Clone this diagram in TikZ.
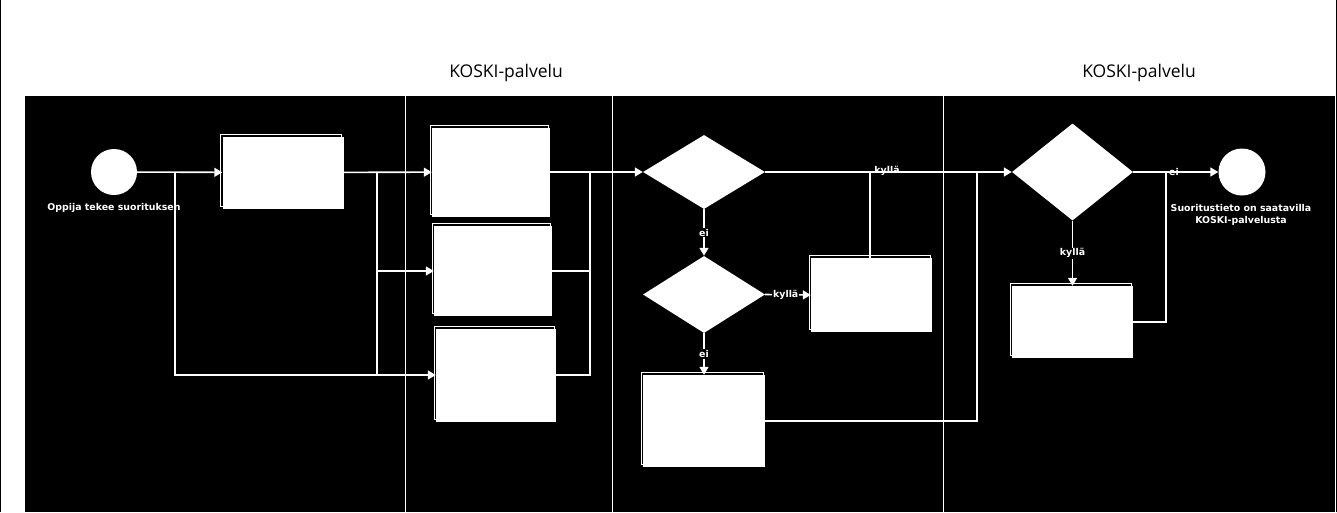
\documentclass[tikz,border=0pt]{standalone}
\usepackage{fontspec}
\setmainfont{Liberation Sans}
\newfontfamily\headfont{Open Sans}
\newfontfamily\lblfont{DejaVu Sans}
\usetikzlibrary{arrows.meta,shapes.geometric,shadows}
\tikzset{
  taskbox/.style={rectangle, fill=white, inner sep=0pt,
    general shadow={draw=white, line width=0.7pt, fill=none, shadow xshift=-1.8pt, shadow yshift=2.2pt}},
  gate/.style={diamond, fill=white, inner sep=0pt, minimum width=122pt, minimum height=74pt},
  eventc/.style={circle, fill=white, inner sep=0pt, minimum size=46pt},
  conn/.style={draw=white, line width=1.6pt},
  flow/.style={conn, -{Triangle[length=8pt,width=9pt]}},
  lbl/.style={text=white, font=\lblfont\bfseries\fontsize{9.4}{12.5}\selectfont, inner sep=1pt},
  lblb/.style={lbl, fill=black},
  lane/.style={draw=white, line width=0.8pt},
  headtxt/.style={text=black, font=\headfont\fontsize{17.5}{20}\selectfont}
}
\begin{document}
\begin{tikzpicture}[x=1pt,y=-1pt]
\useasboundingbox (0,0) rectangle (1337,512);
\fill[white] (0,0) rectangle (1337,512);
\fill[black] (25,96) rectangle (1334.5,512);
\draw[black, line width=1.2pt] (0.6,0) -- (0.6,512);
\draw[black, line width=1.2pt] (1336.4,0) -- (1336.4,512);
% lanes
\draw[lane] (405,96) -- (405,512);
\draw[lane] (612,96) -- (612,512);
\draw[lane] (943,96) -- (943,512);
% headers
\node[headtxt] (h1) at (506,73) {KOSKI-palvelu};
\node[headtxt] (h2) at (1139,73) {KOSKI-palvelu};
% nodes
\node[eventc] (s) at (114,172) {};
\node[lbl, align=center] (slbl) at (114,207.5) {Oppija tekee suorituksen};
\node[taskbox, minimum width=121pt, minimum height=72pt] (t1) at (283,172.5) {};
\node[taskbox, minimum width=118pt, minimum height=89pt] (tA) at (491,172) {};
\node[taskbox, minimum width=118pt, minimum height=90pt] (tB) at (493,271) {};
\node[taskbox, minimum width=120pt, minimum height=93pt] (tC) at (496,375) {};
\node[gate] (g1) at (704,172) {};
\node[gate, minimum height=77pt] (g2) at (704,294.5) {};
\node[taskbox, minimum width=121pt, minimum height=74pt] (tD) at (871.5,295) {};
\node[taskbox, minimum width=122pt, minimum height=92pt] (tE) at (704,421) {};
\node[gate, minimum width=121pt, minimum height=97pt] (g3) at (1072.5,172) {};
\node[taskbox, minimum width=121pt, minimum height=72pt] (tF) at (1072.5,322) {};
\node[eventc, minimum size=47pt] (e) at (1242,172) {};
\node[lbl, align=center] (elbl) at (1241,215) {Suoritustieto on saatavilla\\KOSKI-palvelusta};
% junctions
\coordinate (j1) at (175,172);
\coordinate (j2) at (377,172);
\coordinate (m) at (590,172);
\coordinate (k) at (870,172);
\coordinate (r) at (977,172);
\coordinate (q) at (1166,172);
% connectors
\draw[flow] (s) -- (t1);
\draw[flow] (j1) |- (tC.west);
\draw[flow] (t1) -- (tA);
\draw[conn] (j2) -- (j2 |- tC.west);
\draw[flow] (j2) |- (tB.west);
\draw[conn] (tB.east) -| (m);
\draw[conn] (tC.east) -| (m);
\draw[flow] (tA.east) -- (g1.west);
\draw[flow] (g1.east) -- (g3.west);
\node[lbl] (ky1) at (887,171) {kyllä};
\draw[flow] (g1.south) -- node[lblb, pos=0.5] (ei1) {ei} (g2.north);
\draw[flow] (g2.east) -- node[lblb, pos=0.45] (ky2) {kyllä} (tD.west);
\draw[flow] (g2.south) -- node[lblb, pos=0.5] (ei2) {ei} (tE.north);
\draw[conn] (tD.north -| k) -- (k);
\draw[conn] (tE.east) -| (r);
\draw[flow] (g3.east) -- (e.west);
\node[lbl] (ei3) at (1174,171.5) {ei};
\draw[flow] (g3.south) -- node[lblb, pos=0.5] (ky3) {kyllä} (tF.north);
\draw[conn] (tF.east) -| (q);
\end{tikzpicture}
\end{document}
